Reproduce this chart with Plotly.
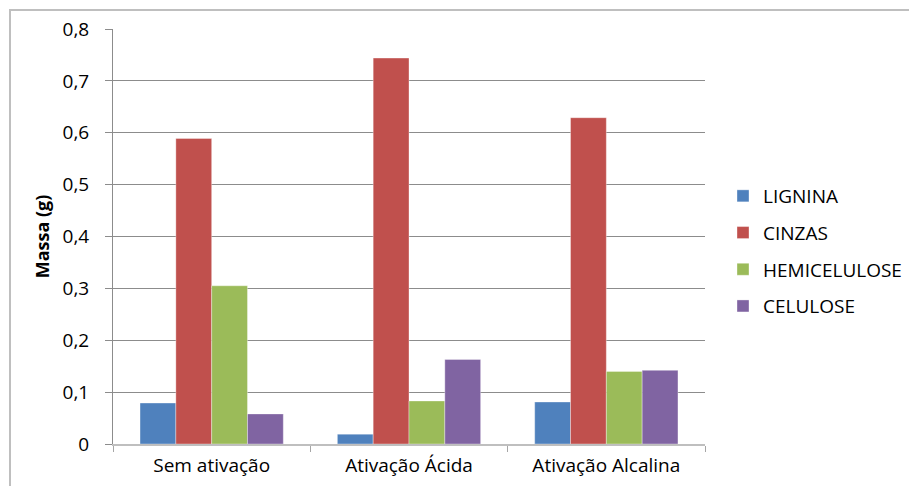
import plotly.graph_objects as go

categories = ["Sem ativação", "Ativação Ácida", "Ativação Alcalina"]
series_names = ["LIGNINA", "CINZAS", "HEMICELULOSE", "CELULOSE"]
lignina = [0.079, 0.019, 0.081]
cinzas = [0.589, 0.744, 0.629]
hemicelulose = [0.305, 0.083, 0.140]
celulose = [0.058, 0.163, 0.142]
colors = ["#4F81BD", "#C0504D", "#9BBB59", "#8064A2"]
y_ticks = [0, 0.1, 0.2, 0.3, 0.4, 0.5, 0.6, 0.7, 0.8]
y_ticktext = ["0", "0,1", "0,2", "0,3", "0,4", "0,5", "0,6", "0,7", "0,8"]

W, H = 909, 486
L, R, T, B = 113, 204, 29, 42
pw, ph = W - L - R, H - T - B

fig = go.Figure()
for name, vals, col in zip(series_names, [lignina, cinzas, hemicelulose, celulose], colors):
    fig.add_trace(go.Bar(
        x=categories, y=vals, name=name, legendgroup=name,
        marker=dict(color=col, line=dict(color="rgba(255,255,255,0.35)", width=1)),
    ))

font = "Open Sans, Liberation Sans, sans-serif"
fig.update_layout(
    width=W, height=H,
    margin=dict(l=L, r=R, t=T, b=B, pad=0, autoexpand=False),
    paper_bgcolor="white", plot_bgcolor="white",
    barmode="group", bargap=0.274, bargroupgap=0,
    separators=",.",
    font=dict(family=font, size=19, color="#000000"),
    showlegend=True,
    legend=dict(
        xref="container", yref="container",
        x=723 / W, xanchor="left",
        y=1 - 251 / H, yanchor="middle",
        font=dict(size=19, family=font, color="#000000"),
        traceorder="grouped", tracegroupgap=9,
        bgcolor="rgba(0,0,0,0)",
    ),
    xaxis=dict(
        type="category", tickson="boundaries", ticks="outside", ticklen=6,
        tickcolor="#A6A6A6", showline=True, linecolor="#BFBFBF", linewidth=2,
        showgrid=False, tickfont=dict(size=19, family=font),
        ticklabelstandoff=3, automargin=False,
    ),
    yaxis=dict(
        range=[0, 0.8], tickvals=y_ticks, ticktext=y_ticktext,
        ticks="outside", ticklen=7, tickcolor="#8C8C8C",
        showline=True, linecolor="#8C8C8C", linewidth=1,
        showgrid=True, gridcolor="#8C8C8C", gridwidth=1,
        zeroline=False, automargin=False,
        tickfont=dict(size=19, family=font),
        ticklabelstandoff=12,
        title=dict(text="<b>Massa (g)</b>", font=dict(size=18, family=font), standoff=8),
    ),
    shapes=[dict(
        type="rect", xref="paper", yref="paper",
        x0=(10 - L) / pw, x1=(W + 20 - L) / pw,
        y0=(H - B - (H + 20)) / ph, y1=(H - B - 10) / ph,
        line=dict(color="#BFBFBF", width=2), fillcolor="rgba(0,0,0,0)", layer="below",
    )],
)

fig.write_html("out.html")
